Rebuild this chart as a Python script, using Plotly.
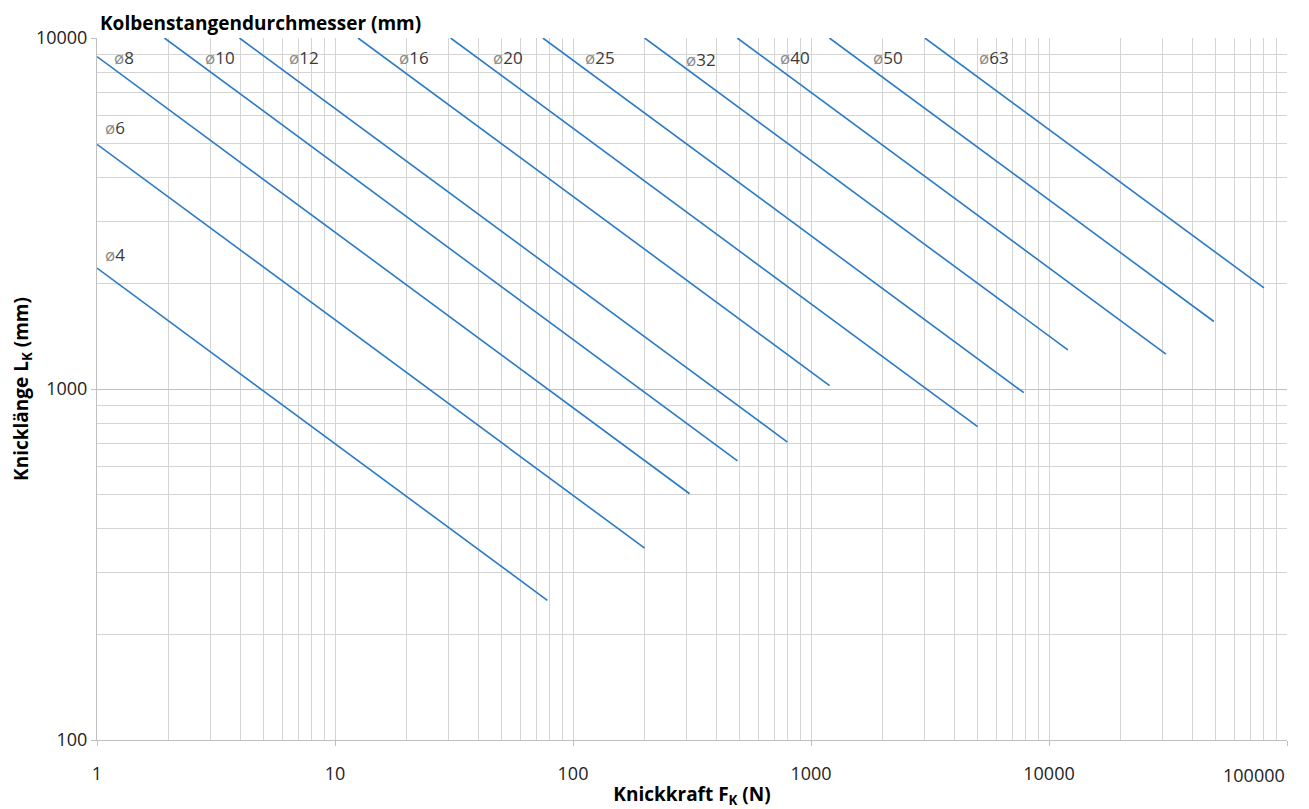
"""Knickdiagramm: Knicklänge über Knickkraft je Kolbenstangendurchmesser."""

import numpy as np
import plotly.graph_objects as go

# Rod diameters (mm) and the end points of each line.
ROD_DIAMETERS = [4, 6, 8, 10, 12, 16, 20, 25, 32, 40, 50, 63]
START_FORCE = [1, 1, 1, 1.92, 3.97, 12.5, 30.6, 74.7, 200, 490, 1195, 3010]
START_LENGTH = [2210, 4980, 8850, 10000, 10000, 10000, 10000, 10000,
                10000, 10000, 10000, 10000]
END_FORCE = [78, 200, 309, 491, 796, 1197, 5012, 7838, 12000, 31000, 49300, 80000]
END_LENGTH = [250, 352, 503, 624, 706, 1023, 781, 976, 1293, 1257, 1557, 1940]

X_TICKS = [1, 10, 100, 1000, 10000, 100000]
Y_TICKS = [100, 1000, 10000]

# Label anchors (left edge, vertical middle) in data units.
LABEL_FORCE = [1.06, 1.06, 1.16, 2.79, 6.27, 18.3, 45.1, 110, 292, 724, 1782, 4966]
LABEL_LENGTH = [2420, 5570, 8810, 8810, 8810, 8810, 8810, 8810, 8700, 8810, 8810, 8810]

LINE_COLOR = "#2a7ac4"
FONT = "'Open Sans', Lato, sans-serif"

# The page body has an 8px margin, so the figure is a bit smaller than the window.
W, H = 1301, 801


def minor_vals(lo_exp, hi_exp):
    vals = []
    for e in range(lo_exp, hi_exp):
        vals += [m * 10 ** e for m in range(2, 10)]
    return vals


fig = go.Figure()

for d, f0, l0, f1, l1 in zip(ROD_DIAMETERS, START_FORCE, START_LENGTH,
                             END_FORCE, END_LENGTH):
    fig.add_trace(go.Scatter(
        x=[f0, f1], y=[l0, l1], mode="lines",
        line={"color": LINE_COLOR, "width": 1.6},
        name=f"ø{d}", showlegend=False,
    ))

for d, fx, ly in zip(ROD_DIAMETERS, LABEL_FORCE, LABEL_LENGTH):
    fig.add_annotation(
        x=np.log10(fx), y=np.log10(ly), xref="x", yref="y",
        text=f"<span style='color:#8a8a8a'>ø</span>{d}",
        showarrow=False, xanchor="left", yanchor="middle",
        font={"family": FONT, "size": 17, "color": "#3a3a3a"},
    )

# Excel pushes the last x label inwards so it stays on the page.
x_ticktext = [str(v) for v in X_TICKS]
x_ticktext[-1] = ""
fig.add_annotation(
    x=np.log10(X_TICKS[-1]), y=0, xref="x", yref="paper",
    text=str(X_TICKS[-1]), showarrow=False,
    xanchor="right", yanchor="middle", yshift=-35, xshift=0,
    font={"family": FONT, "size": 18, "color": "#222"},
)

fig.update_xaxes(
    type="log", range=[0, 5], automargin=False,
    tickvals=X_TICKS, ticktext=x_ticktext,
    ticks="outside", ticklen=5, tickcolor="#bfbfbf", ticklabelstandoff=12,
    showline=True, linecolor="#bfbfbf", linewidth=1,
    showgrid=True, gridcolor="#d4d4d4", gridwidth=1,
    minor={"tickvals": minor_vals(0, 5), "showgrid": True,
           "gridcolor": "#d4d4d4", "gridwidth": 1, "ticks": ""},
    tickfont={"family": FONT, "size": 18, "color": "#222"},
    title={"text": "<b>Knickkraft F<sub>K</sub> (N)</b>", "standoff": 4,
           "font": {"family": FONT, "size": 19, "color": "#000"}},
)
fig.update_yaxes(
    type="log", range=[2, 4], automargin=False,
    tickvals=Y_TICKS, ticktext=[str(v) for v in Y_TICKS],
    ticks="outside", ticklen=5, tickcolor="#bfbfbf",
    showline=True, linecolor="#bfbfbf", linewidth=1,
    showgrid=True, gridcolor="#c0c0c0", gridwidth=1,
    minor={"tickvals": minor_vals(2, 4), "showgrid": True,
           "gridcolor": "#d4d4d4", "gridwidth": 1, "ticks": ""},
    tickfont={"family": FONT, "size": 18, "color": "#222"},
    title={"text": "<b>Knicklänge L<sub>K</sub> (mm)</b>", "standoff": 10,
           "font": {"family": FONT, "size": 19, "color": "#000"}},
)

fig.update_layout(
    width=W, height=H,
    paper_bgcolor="white", plot_bgcolor="white",
    margin={"l": 89, "r": 22, "t": 30, "b": 69},
    title={"text": "<b>Kolbenstangendurchmesser (mm)</b>",
           "x": 92 / W, "xanchor": "left", "y": 1 - 15 / H, "yanchor": "middle",
           "font": {"family": FONT, "size": 19, "color": "#000"}},
    font={"family": FONT},
)

fig.write_html("out.html")
